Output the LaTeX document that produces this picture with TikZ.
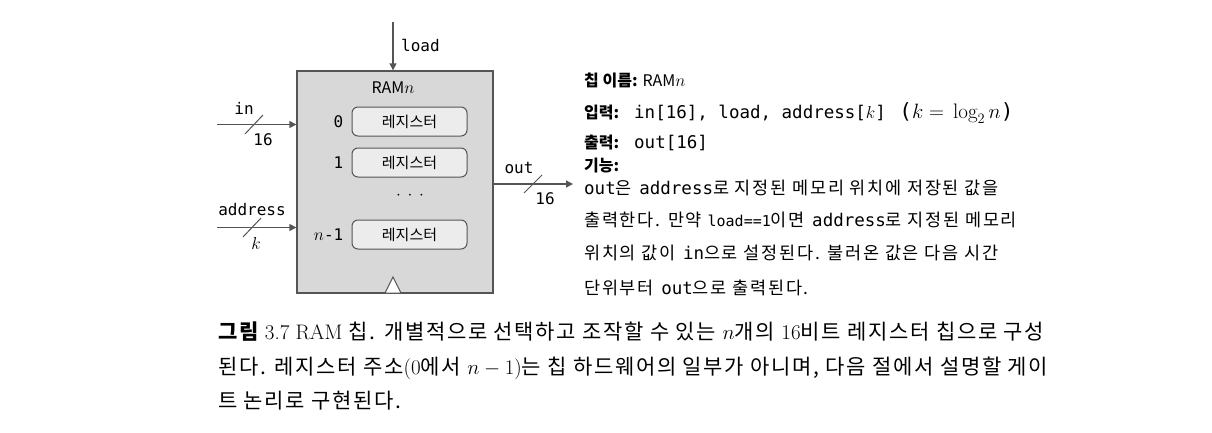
\documentclass[tikz,border=0pt]{standalone}
\usepackage{fontspec}
\setmonofont{DejaVu Sans Mono}
\newfontfamily\kr{Noto Sans CJK KR}
\newfontfamily\krd[LetterSpace=10]{Noto Sans CJK KR}
\newfontfamily\krc[LetterSpace=8]{Noto Sans CJK KR}
\usetikzlibrary{positioning,arrows.meta}

\definecolor{chipgray}{RGB}{216,216,216}
\definecolor{reggray}{RGB}{236,236,236}
\definecolor{linegray}{RGB}{85,85,85}

\tikzset{
  wire/.style={line width=1.3pt, draw=linegray, -{Triangle[length=7pt,width=7pt]}},
  busmark/.style={line width=1pt, draw=linegray},
  regbox/.style={draw=linegray, line width=1pt, fill=reggray, rounded corners=6pt,
    minimum width=115pt, minimum height=29pt, inner sep=0pt, font=\fontsize{15}{18}\kr},
  reglabel/.style={font=\fontsize{16}{18}\ttfamily, inner sep=0pt},
  pinlabel/.style={font=\fontsize{16}{18}\ttfamily, inner sep=0pt},
  infohead/.style={anchor=base west, inner sep=0pt, font=\fontsize{16}{18}\kr\bfseries},
  infotext/.style={anchor=base west, inner sep=0pt, font=\fontsize{17.5}{20}\krd},
  captext/.style={anchor=base west, inner sep=0pt, font=\fontsize{21}{24}\rmfamily}
}

\begin{document}
\begin{tikzpicture}[x=1pt, y=-1pt]
  \useasboundingbox (0,0) rectangle (1212,432);

  % the chip
  \node[draw=linegray, line width=1.3pt, fill=chipgray, minimum width=196pt,
    minimum height=222pt, inner sep=0pt] (ram) at (395,182) {};
  \node[font=\fontsize{16}{18}\kr, inner sep=0pt] (ramname) at (393,88) {RAM$n$};

  % registers
  \node[regbox] (r0) at (409.5,121.5) {레지스터};
  \node[regbox, below=11pt of r0] (r1) {레지스터};
  \node[regbox] (rn) at (409.5,234.5) {레지스터};
  \node[reglabel, left=8pt of r0] (l0) {0};
  \node[reglabel, left=8pt of r1] (l1) {1};
  \node[reglabel, left=8pt of rn] (ln) {$n$-1};
  \node[inner sep=0pt, font=\fontsize{18}{20}\selectfont] (dots) at (410,196) {$\cdot\,\cdot\,\cdot$};

  % clock
  \draw[line width=1pt, draw=linegray, fill=white] (385,293) -- (393,277) -- (401,293) -- cycle;

  % load
  \coordinate (loadS) at (393,22);
  \draw[wire] (loadS) -- (loadS |- ram.north);
  \node[pinlabel, anchor=west] (loadL) at (401,45) {load};

  % in
  \coordinate (inS) at (217,124.5);
  \draw[wire] (inS) -- (inS -| ram.west);
  \draw[busmark] (245,134) -- (263,115);
  \node[pinlabel] (inL) at (244,108) {in};
  \node[pinlabel] (inW) at (263,140) {16};

  % address
  \coordinate (adS) at (217,227.5);
  \draw[wire] (adS) -- (adS -| ram.west);
  \draw[busmark] (243,237) -- (261,218);
  \node[pinlabel] (adL) at (252,210) {address};
  \node[inner sep=0pt, font=\fontsize{16}{18}\selectfont] (adW) at (256,243) {$k$};

  % out
  \coordinate (outE) at (573,184);
  \draw[wire] (outE -| ram.east) -- (outE);
  \draw[busmark] (524,193) -- (542,175);
  \node[pinlabel] (outL) at (519,168) {out};
  \node[pinlabel] (outW) at (545,199) {16};

  % chip description
  \node[infohead] (nameH) at (584,86) {칩 이름: {\mdseries RAM$n$}};
  \node[infohead] (inH) at (584,118) {입력:};
  \node[infohead] (outH) at (584,148) {출력:};
  \node[infohead] (funH) at (584,171) {기능:};
  \node[anchor=base west, inner sep=0pt, font=\fontsize{17.5}{20}\ttfamily] (inV) at (634,118)
    {in[16], load, address[$k$] \,{\fontsize{21}{22}\selectfont($k\;{=}\;\log_2 n$)}};
  \node[anchor=base west, inner sep=0pt, font=\fontsize{17.5}{20}\ttfamily] (outV) at (634,148) {out[16]};
  \node[infotext] (d1) at (584,194) {\texttt{out}은 \texttt{address}로 지정된 메모리 위치에 저장된 값을};
  \node[infotext] (d2) at (584,226) {출력한다. 만약 {\fontsize{15}{18}\ttfamily load==1}이면 \texttt{address}로 지정된 메모리};
  \node[infotext] (d3) at (584,259) {위치의 값이 \texttt{in}으로 설정된다. 불러온 값은 다음 시간};
  \node[infotext] (d4) at (584,294) {단위부터 \texttt{out}으로 출력된다.};

  % caption
  \node[captext] (c1) at (218,339) {{\krc\bfseries 그림} 3.7 RAM {\krc 칩. 개별적으로 선택하고 조작할 수 있는} $n${\krc 개의} 16{\krc 비트 레지스터 칩으로 구성}};
  \node[captext] (c2) at (218,374) {{\krc 된다. 레지스터 주소}(0{\krc 에서} $n-1$){\krc 는 칩 하드웨어의 일부가 아니며, 다음 절에서 설명할 게이}};
  \node[captext] (c3) at (218,408) {{\krc 트 논리로 구현된다.}};
\end{tikzpicture}
\end{document}
